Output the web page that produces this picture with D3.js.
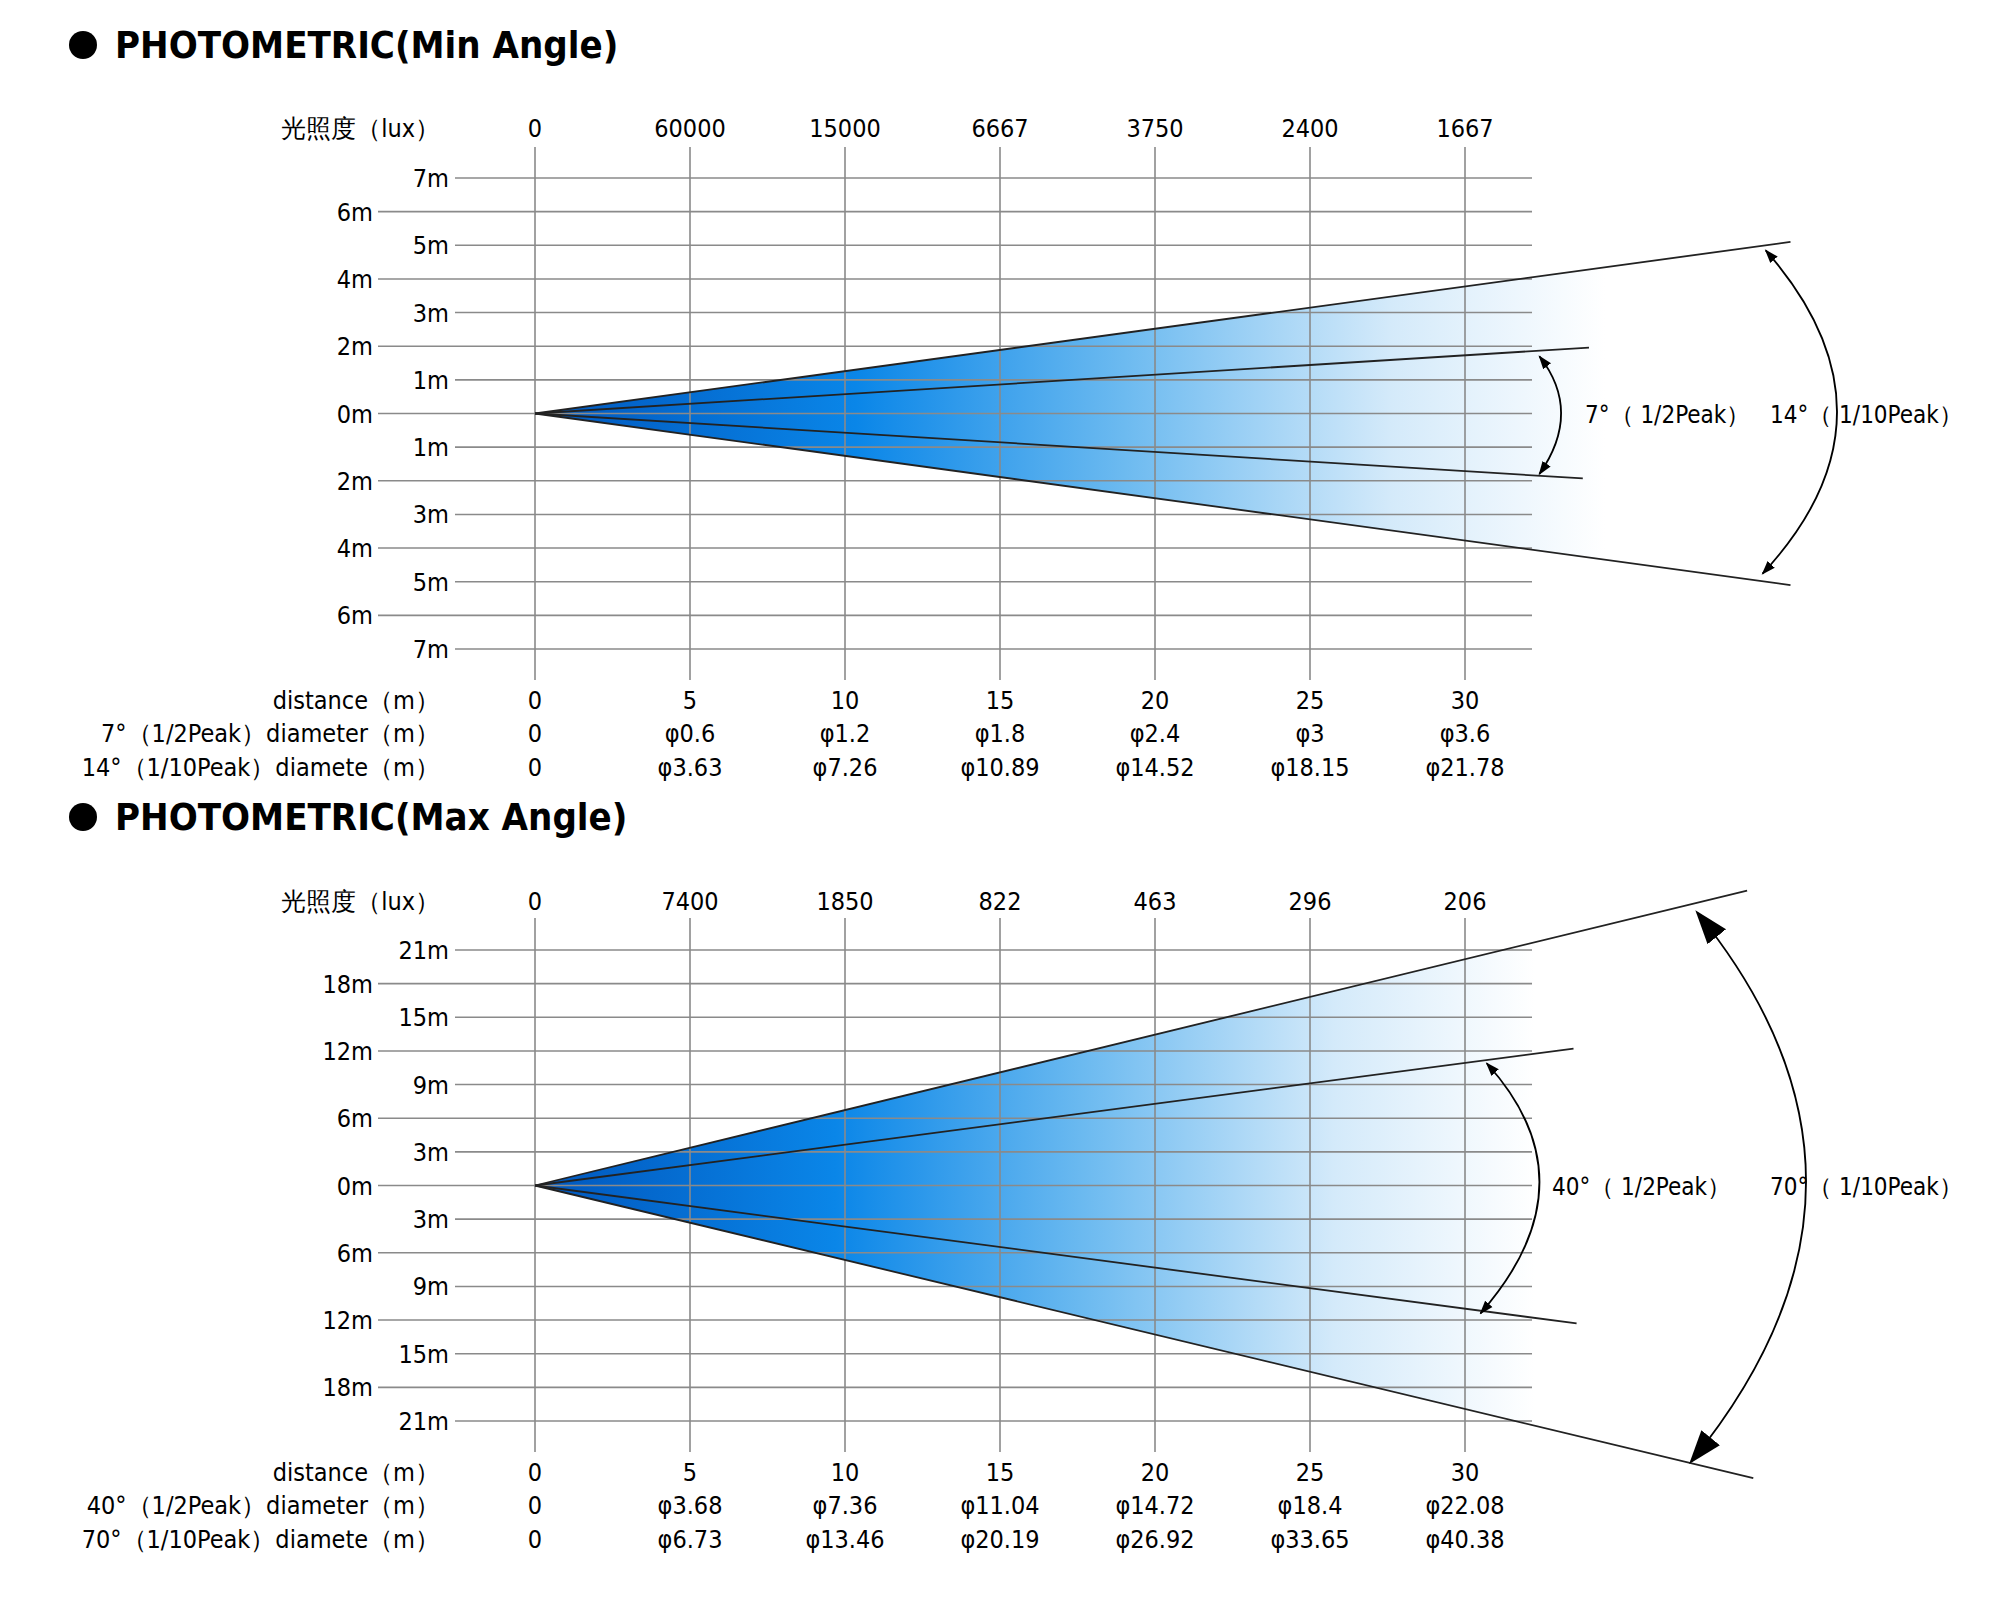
<!DOCTYPE html><html><head><meta charset="utf-8"><script src="https://cdn.jsdelivr.net/npm/d3@7"></script>
<style>body{margin:0;background:#fff}text{font-family:"DejaVu Sans Condensed","DejaVu Sans",sans-serif}</style></head><body>
<svg id="c" width="2000" height="1608"></svg>
<script>
const distances=[0,5,10,15,20,25,30];
const luxMin=["0","60000","15000","6667","3750","2400","1667"];
const luxMax=["0","7400","1850","822","463","296","206"];
const dMin1=["0","φ0.6","φ1.2","φ1.8","φ2.4","φ3","φ3.6"];
const dMin2=["0","φ3.63","φ7.26","φ10.89","φ14.52","φ18.15","φ21.78"];
const dMax1=["0","φ3.68","φ7.36","φ11.04","φ14.72","φ18.4","φ22.08"];
const dMax2=["0","φ6.73","φ13.46","φ20.19","φ26.92","φ33.65","φ40.38"];
const ticksMin=[7,6,5,4,3,2,1,0,-1,-2,-3,-4,-5,-6,-7];
const ticksMax=[21,18,15,12,9,6,3,0,-3,-6,-9,-12,-15,-18,-21];
// beam lines [distance, offset]
const outerMin=[[40.5,5.1],[40.5,-5.1]], innerMin=[[34,1.96],[33.8,-1.93]];
const outerMax=[[39.1,26.3],[39.3,-26.1]], innerMax=[[33.5,12.2],[33.6,-12.3]];
const arcsMin=[[[32.4,1.7],[33.1,0],[32.4,-1.8],false],[[39.7,4.85],[42,0],[39.6,-4.76],false]];
const arcsMax=[[[30.7,10.9],[32.4,0],[30.5,-11.4],false],[[37.5,24.3],[41,0],[37.3,-24.6],true]];

const svg=d3.select("#c");
const defs=svg.append("defs");
function mk(id,s){defs.append("marker").attr("id",id).attr("viewBox","0 0 10 10").attr("refX",9).attr("refY",5)
 .attr("markerWidth",s).attr("markerHeight",s).attr("orient","auto-start-reverse").attr("markerUnits","userSpaceOnUse")
 .append("path").attr("d","M0,1.5L10,5L0,8.5Z").attr("fill","#000");}
mk("aS",14);mk("aB",34);
const x=d3.scaleLinear([0,30],[535,1465]);

function chart(o){
 const g=svg.append("g"), y=o.y;
 g.append("circle").attr("cx",83).attr("cy",o.titleY).attr("r",14);
 g.append("text").attr("x",115).attr("y",o.titleY+13).attr("font-size",38).attr("font-weight","bold").attr("font-family","'DejaVu Sans Condensed'").text(o.title);
 const gid="g"+o.id;
 const gr=defs.append("linearGradient").attr("id",gid).attr("gradientUnits","userSpaceOnUse").attr("x1",x(0)).attr("x2",o.fillEnd).attr("y1",0).attr("y2",0);
 [[0,"#0056bd"],[0.3,"#0a86e8"],[0.55,"#6cbaf0"],[0.8,"#d4eafa"],[1,"#ffffff"]].forEach(s=>gr.append("stop").attr("offset",s[0]).attr("stop-color",s[1]));
 // fill
 const fe=x.invert(o.fillEnd);
 const pt=(p,d)=>[x(d),y(p[1]*d/p[0])];
 g.append("path").attr("d",d3.line()([[x(0),y(0)],pt(o.outer[0],fe),pt(o.outer[1],fe)])+"Z").attr("fill",`url(#${gid})`);
 // grid
 o.ticks.forEach((t,i)=>{const odd=i%2===0;
  g.append("line").attr("x1",odd?455:378).attr("x2",1532).attr("y1",y(t)).attr("y2",y(t)).attr("stroke","#8a8a8a").attr("stroke-width",1.6);
  g.append("text").attr("x",odd?449:373).attr("y",y(t)+9).attr("text-anchor","end").attr("font-size",25).text(Math.abs(t)+"m");});
 distances.forEach((d,i)=>{
  g.append("line").attr("x1",x(d)).attr("x2",x(d)).attr("y1",o.vTop).attr("y2",o.vBot).attr("stroke","#8a8a8a").attr("stroke-width",1.6);
  [[o.headY,o.lux[i]],[o.rowY,d],[o.rowY+33,o.d1[i]],[o.rowY+67,o.d2[i]]].forEach(r=>
   g.append("text").attr("x",x(d)).attr("y",r[0]+9).attr("text-anchor","middle").attr("font-size",25).text(r[1]));});
 [[o.headY,"光照度（lux）"],[o.rowY,"distance（m）"],[o.rowY+33,o.l1],[o.rowY+67,o.l2]].forEach(r=>
  g.append("text").attr("x",440).attr("y",r[0]+9).attr("text-anchor","end").attr("font-size",25).attr("font-family","'DejaVu Sans Condensed','Noto Sans CJK SC'").text(r[1]));
 // beam lines
 o.outer.concat(o.inner).forEach(p=>g.append("line").attr("x1",x(0)).attr("y1",y(0)).attr("x2",x(p[0])).attr("y2",y(p[1])).attr("stroke","#222").attr("stroke-width",1.8));
 // arcs
 o.arcs.forEach(a=>{const s=[x(a[0][0]),y(a[0][1])],m=[x(a[1][0]),y(a[1][1])],e=[x(a[2][0]),y(a[2][1])];
  const c=[2*m[0]-(s[0]+e[0])/2,2*m[1]-(s[1]+e[1])/2];
  const mkr=a[3]?"aB":"aS";
  g.append("path").attr("d",`M${s}Q${c} ${e}`).attr("fill","none").attr("stroke","#000").attr("stroke-width",1.8)
   .attr("marker-start",`url(#${mkr})`).attr("marker-end",`url(#${mkr})`);});
 o.labels.forEach(l=>g.append("text").attr("x",l[0]).attr("y",y(0)+9).attr("font-size",24).text(l[1]));
}
chart({id:1,title:"PHOTOMETRIC(Min Angle)",titleY:45,y:d3.scaleLinear([-7,7],[649,178]),ticks:ticksMin,fillEnd:1605,
 outer:outerMin,inner:innerMin,arcs:arcsMin,headY:128,rowY:700,vTop:147,vBot:680,lux:luxMin,d1:dMin1,d2:dMin2,
 l1:"7°（1/2Peak）diameter（m）",l2:"14°（1/10Peak）diamete（m）",labels:[[1585,"7°（ 1/2Peak）"],[1770,"14°（ 1/10Peak）"]]});
chart({id:2,title:"PHOTOMETRIC(Max Angle)",titleY:817,y:d3.scaleLinear([-21,21],[1421,950]),ticks:ticksMax,fillEnd:1535,
 outer:outerMax,inner:innerMax,arcs:arcsMax,headY:901,rowY:1472,vTop:918,vBot:1452,lux:luxMax,d1:dMax1,d2:dMax2,
 l1:"40°（1/2Peak）diameter（m）",l2:"70°（1/10Peak）diamete（m）",labels:[[1552,"40°（ 1/2Peak）"],[1770,"70°（ 1/10Peak）"]]});
</script></body></html>
